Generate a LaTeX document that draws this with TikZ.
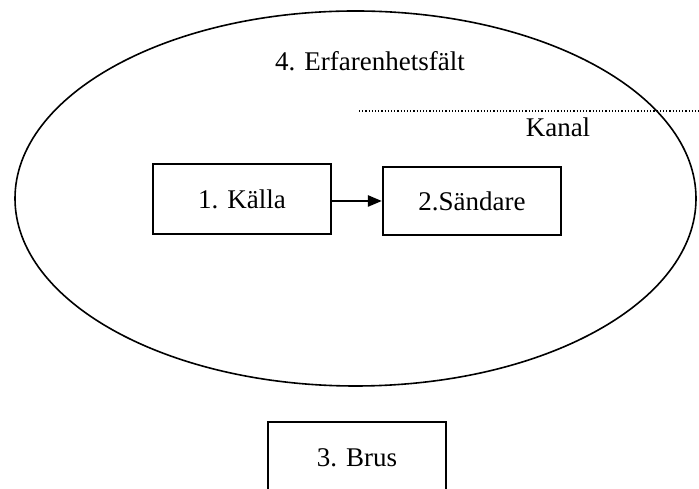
\documentclass[tikz,border=0pt]{standalone}
\usepackage{fontspec}
\setmainfont{Liberation Serif}
\usetikzlibrary{positioning}
\usetikzlibrary{arrows.meta}

\tikzset{
  block/.style={draw, line width=2.2pt, minimum width=178pt, inner sep=0pt},
  lbl/.style={font=\fontsize{27}{29}\selectfont},
}

\begin{document}
\begin{tikzpicture}[x=1pt,y=1pt]

\def\W{699}
\def\H{489}

\useasboundingbox (0,0) rectangle (\W,\H);
\clip (0,0) rectangle (\W,\H);

%---------------------------------------
% Field of experience
%---------------------------------------
\draw[line width=1.6pt] (355.5,290.5) ellipse (340.5 and 187.5);
\node[lbl] (falt) at (370,428) {4. Erfarenhetsf\"alt};

% Channel
\coordinate (kanalstart) at (359,378);
\coordinate (kanalslut) at (\W,378);
\draw[dotted, line width=1.2pt] (kanalstart) -- (kanalslut);
\node[lbl] (kanal) at (558,362) {Kanal};

%---------------------------------------
% Source and sender
%---------------------------------------
\node[block, lbl, minimum height=70pt] (kalla) at (242,290) {1. K\"alla};
\node[block, lbl, minimum height=68pt] (sandare) at (472,288) {2.S\"andare};
\draw[-{Triangle[length=14pt,width=11pt]}, line width=2.4pt]
  (kalla.east |- 0,288) -- (sandare.west |- 0,288);

%---------------------------------------
% Noise (runs off the bottom edge)
%---------------------------------------
\node[block, lbl, minimum height=72pt] (brus) at (357,31) {3. Brus};

\end{tikzpicture}
\end{document}
